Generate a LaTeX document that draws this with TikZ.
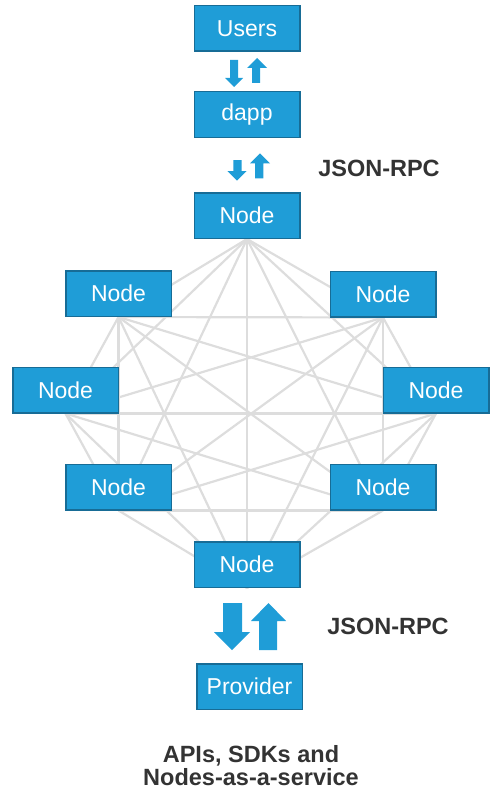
\documentclass[tikz,border=0pt]{standalone}
\usepackage{fontspec}
\setmainfont{Liberation Sans}
\usetikzlibrary{backgrounds}
\definecolor{boxblue}{RGB}{31,157,215}
\definecolor{boxedge}{RGB}{23,108,150}
\definecolor{meshgray}{RGB}{221,221,221}
\definecolor{labelgray}{RGB}{51,51,51}
\tikzset{
  peer/.style={draw=boxedge, line width=1.5pt, fill=boxblue, text=white,
    minimum width=105.5pt, minimum height=45.5pt, inner sep=0pt,
    font=\fontsize{23}{23}\selectfont},
  link/.style={draw=meshgray, line width=2.2pt},
  flow/.style={fill=boxblue},
  caption/.style={text=labelgray, font=\fontsize{23.5}{23.5}\selectfont\bfseries, inner sep=0pt}
}
\begin{document}
\begin{tikzpicture}[x=1pt, y=-1pt]
\useasboundingbox (0,0) rectangle (491,789);

% client stack
\node[peer] (users) at (247,28.5) {Users};
\node[peer] (dapp) at (247,114.5) {dapp};
\node[peer] (n0) at (247,215.5) {Node};

% peer ring
\node[peer] (n1) at (383,294) {Node};
\node[peer] (n2) at (436,390) {Node};
\node[peer] (n3) at (383,487) {Node};
\node[peer] (n4) at (247,564.5) {Node};
\node[peer] (n5) at (118.5,487) {Node};
\node[peer] (n6) at (65.5,390) {Node};
\node[peer] (n7) at (118.5,293.5) {Node};

\node[peer] (provider) at (249.5,686.5) {Provider};

% every peer talks to every other peer
\begin{scope}[on background layer]
\foreach \a in {0,...,7}{
  \foreach \b in {0,...,7}{
    \ifnum\a<\b
      \draw[link] (n\a.south) -- (n\b.south);
    \fi
  }
}
\end{scope}

% request / response arrows: Users <-> dapp
\fill[flow] (230,60) -- (238,60) -- (238,78) -- (243,78) -- (234,87) -- (225,78) -- (230,78) -- cycle;
\fill[flow] (252,83) -- (260,83) -- (260,68) -- (267,68) -- (257,58) -- (247,68) -- (252,68) -- cycle;

% dapp <-> Node
\fill[flow] (233.3,160) -- (241.7,160) -- (241.7,171) -- (246.7,171) -- (237,180.7) -- (227.3,171) -- (233.3,171) -- cycle;
\fill[flow] (255,178.3) -- (263.3,178.3) -- (263.3,163.3) -- (270,163.3) -- (260,153.3) -- (250,163.3) -- (255,163.3) -- cycle;

% Node <-> Provider
\fill[flow] (223,603) -- (242,603) -- (242,632) -- (250,632) -- (232,650) -- (214,632) -- (223,632) -- cycle;
\fill[flow] (259,650) -- (277,650) -- (277,621) -- (286,621) -- (268.5,603) -- (251,621) -- (259,621) -- cycle;

% labels
\node[caption] (rpc1) at (379,168.5) {JSON-RPC};
\node[caption] (rpc2) at (388,626.5) {JSON-RPC};
\node[caption, anchor=base] (svc1) at (251,762.5) {APIs, SDKs and};
\node[caption, anchor=base] (svc2) at (251,785) {Nodes-as-a-service};
\end{tikzpicture}
\end{document}
